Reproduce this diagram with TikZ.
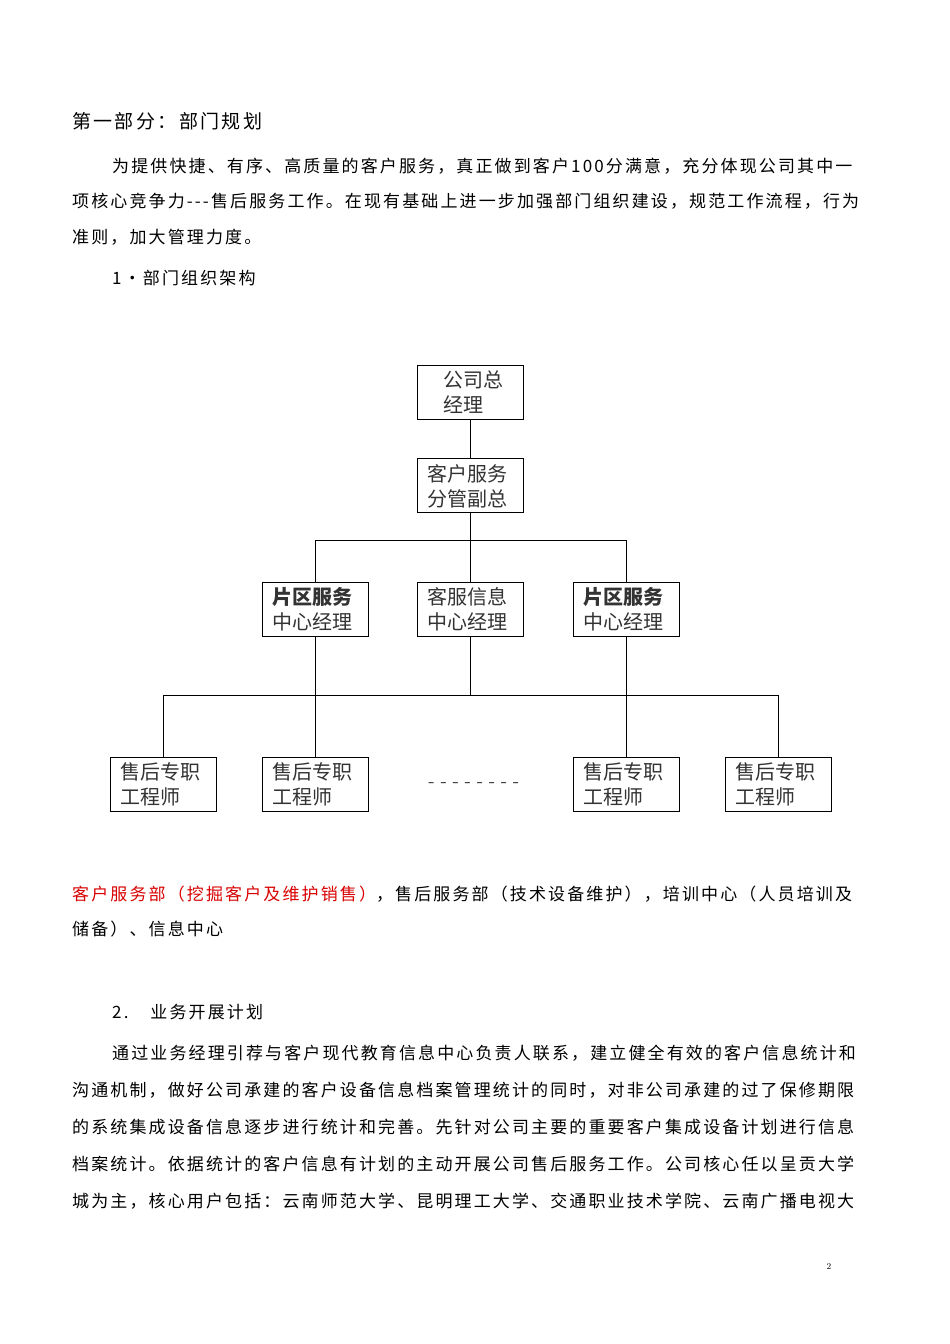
\documentclass[tikz,border=0pt]{standalone}
\usepackage{fontspec}
\newfontfamily\cjk{Noto Sans CJK SC}
\newfontfamily\cjkw[LetterSpace=12.5]{Noto Sans CJK SC}
\begin{document}
\begin{tikzpicture}[x=1pt,y=-1pt,
  box/.style={draw,line width=0.8pt,minimum width=106pt,minimum height=54pt,anchor=north west,inner sep=0pt},
  bt/.style={font=\cjk\fontsize{20}{25}\selectfont,align=left,anchor=west,text=black!80},
  tx/.style={font=\cjkw\fontsize{17}{20}\selectfont,anchor=west,inner sep=0pt},
  ln/.style={line width=0.8pt}]
\useasboundingbox (0,0) rectangle (950,1344);
\fill[white] (0,0) rectangle (950,1344);
\node[tx,font=\cjkw\fontsize{19}{24}\selectfont] (h1) at (72,121) {第一部分：部门规划};
\node[tx] (p1) at (112,166) {为提供快捷、有序、高质量的客户服务，真正做到客户100分满意，充分体现公司其中一};
\node[tx] (p2) at (72,201) {项核心竞争力---售后服务工作。在现有基础上进一步加强部门组织建设，规范工作流程，行为};
\node[tx] (p3) at (72,237) {准则，加大管理力度。};
\node[tx] (p4) at (112,278) {1•部门组织架构};
% boxes
\node[box] (a) at (417,365) {};
\node[bt] at (440,392) {公司总\\经理};
\node[box] (b) at (417,458) {};
\node[bt] at (424,486) {客户服务\\分管副总};
\node[box] (c1) at (262,582) {};
\node[bt] at (269,609) {\textbf{片区服务}\\中心经理};
\node[box] (c2) at (417,582) {};
\node[bt] at (424,609) {客服信息\\中心经理};
\node[box] (c3) at (573,582) {};
\node[bt] at (580,609) {\textbf{片区服务}\\中心经理};
\foreach \n/\x in {d1/110,d2/262,d3/573,d4/725}{
  \node[box] (\n) at (\x,757) {};
  \node[bt] at (\x+7,784) {售后专职\\工程师};
}
\node[font=\fontsize{20}{20}\selectfont] (dots) at (474,785) {- - - - - - - -};
% connectors
\draw[ln] (a.south) -- (b.north);
\draw[ln] (b.south) -- ++(0,28) coordinate (j1);
\draw[ln] (c1.north) -- (c1.north |- j1) -- (c3.north |- j1) -- (c3.north);
\draw[ln] (j1) -- (c2.north);
\coordinate (j2) at (0,695);
\draw[ln] (c1.south) -- (c1.south |- j2);
\draw[ln] (c2.south) -- (c2.south |- j2);
\draw[ln] (c3.south) -- (c3.south |- j2);
\draw[ln] (d1.north) -- (d1.north |- j2) -- (d4.north |- j2) -- (d4.north);
\draw[ln] (d2.north) -- (d2.north |- j2);
\draw[ln] (d3.north) -- (d3.north |- j2);
% text below
\node[tx] (q1) at (72,894) {\textcolor{red!85!black}{客户服务部（挖掘客户及维护销售）}，售后服务部（技术设备维护），培训中心（人员培训及};
\node[tx] (q2) at (72,929) {储备）、信息中心};
\node[tx] (q3) at (112,1012) {2.\hspace{22pt}业务开展计划};
\node[tx] (r1) at (112,1053) {通过业务经理引荐与客户现代教育信息中心负责人联系，建立健全有效的客户信息统计和};
\node[tx] (r2) at (72,1090) {沟通机制，做好公司承建的客户设备信息档案管理统计的同时，对非公司承建的过了保修期限};
\node[tx] (r3) at (72,1127) {的系统集成设备信息逐步进行统计和完善。先针对公司主要的重要客户集成设备计划进行信息};
\node[tx] (r4) at (72,1164) {档案统计。依据统计的客户信息有计划的主动开展公司售后服务工作。公司核心任以呈贡大学};
\node[tx] (r5) at (72,1201) {城为主，核心用户包括：云南师范大学、昆明理工大学、交通职业技术学院、云南广播电视大};
\node[font=\fontsize{9}{9}\selectfont] (pg) at (829,1266) {2};
\end{tikzpicture}
\end{document}
